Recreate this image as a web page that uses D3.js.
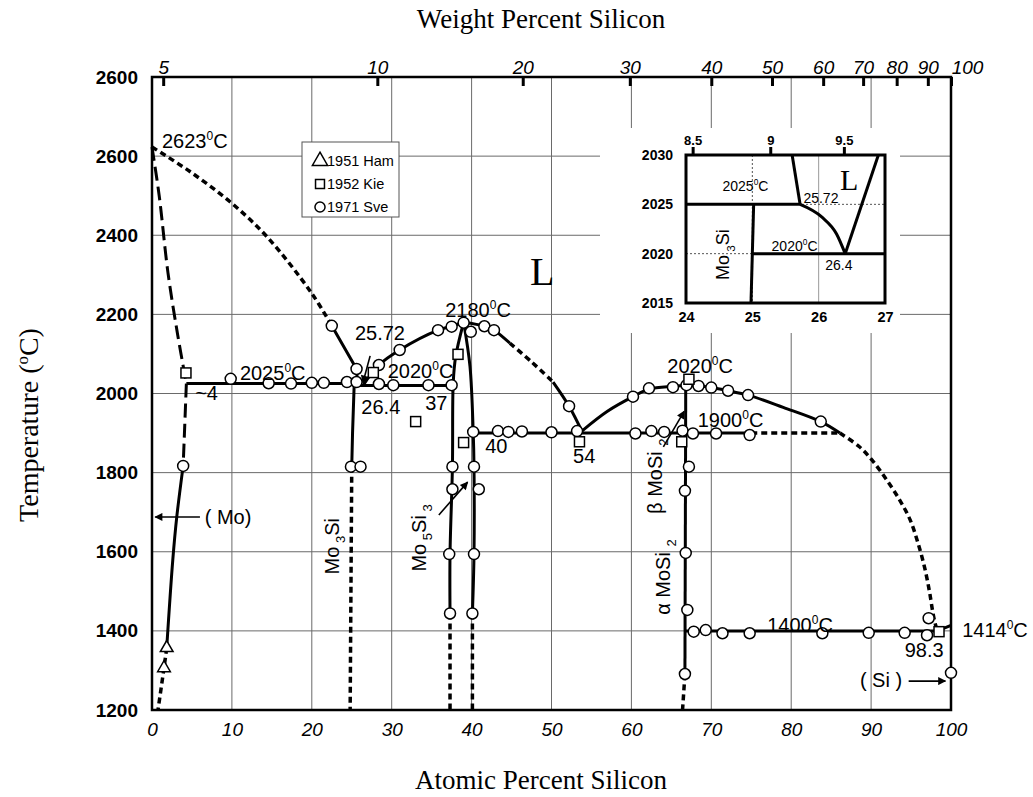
<!DOCTYPE html>
<html>
<head>
<meta charset="utf-8">
<script src="https://cdn.jsdelivr.net/npm/d3@7"></script>
<style>
  body { margin: 0; background: #fff; }
  svg { display: block; font-family: "Liberation Sans", Arial, sans-serif; }
</style>
</head>
<body>
<svg id="chart" width="1033" height="797"></svg>
<script>
// ---- axes ----
const atTicks = [0, 10, 20, 30, 40, 50, 60, 70, 80, 90, 100];
const tempTicks = [1200, 1400, 1600, 1800, 2000, 2200, 2400, 2600, 2800];
const tempTickLabels = ['1200', '1400', '1600', '1800', '2000', '2200', '2400', '2600', '2600'];
const wtTickLabels = ['5', '10', '20', '30', '40', '50', '60', '70', '80', '90', '100'];
const wtTickAt = [1.4, 28.2, 46.4, 59.8, 70.0, 77.6, 84.0, 89.0, 93.2, 97.1, 100];

// ---- phase boundaries [at% Si, temperature] ----
const moLiquidus = [[0, 2623], [4.75, 2561], [9.8, 2484], [14.4, 2396], [20, 2253], [22.5, 2171]];
const moLiquidusLow = [[22.5, 2171], [25.6, 2062], [25.72, 2025]];
const moSolidus = [[0, 2623], [0.9, 2500], [2.0, 2305], [3.2, 2150], [4.3, 2025]];
const moSolvusHigh = [[4.3, 2025], [4.1, 1920], [3.9, 1817]];
const moSolvus = [[3.9, 1817], [3.1, 1688], [2.6, 1579], [1.84, 1357]];
const moSolvusLow = [[1.84, 1357], [1.5, 1306], [0.75, 1200]];
const peritectic2025 = [[4.3, 2025], [25.72, 2025]];
const eutectic2020 = [[25.3, 2020], [37.7, 2020]];
const mo3Si = [[25.3, 2020], [25.1, 1900], [25.0, 1815]];
const mo3SiLow = [[25.0, 1815], [24.8, 1200]];
const liquidusMid = [[26.4, 2020], [28.4, 2072], [31.0, 2110], [35.8, 2160], [37.5, 2170], [39.0, 2180]];
const liquidusMid2 = [[39.0, 2180], [41.6, 2170], [42.8, 2160], [44.8, 2127]];
const liquidusMid2Dash = [[44.8, 2127], [47.5, 2080], [50.2, 2029]];
const liquidusMid3 = [[50.2, 2029], [52.2, 1968], [53.8, 1905]];
const mo5Si3Left = [[39.0, 2180], [38.0, 2093], [37.7, 2027], [37.6, 1815], [37.3, 1594], [37.3, 1444]];
const mo5Si3LeftLow = [[37.3, 1444], [37.3, 1200]];
const mo5Si3Right = [[39.0, 2180], [39.8, 2068], [40.2, 1903], [40.3, 1815], [40.3, 1594], [40.1, 1444]];
const mo5Si3RightLow = [[40.1, 1444], [40.1, 1200]];
const eutectic1900 = [[40.2, 1900], [75.0, 1900]];
const eutectic1900Dash = [[75.0, 1900], [86.1, 1900]];
const liquidusRight = [[53.8, 1905], [57.0, 1955], [60.2, 1992], [62.2, 2011], [65.2, 2018], [66.8, 2020],
  [68.4, 2019], [70.0, 2015], [72.1, 2007], [74.6, 1996], [79.0, 1965], [83.7, 1929], [86.1, 1900]];
const liquidusRightDash = [[86.1, 1900], [88.5, 1866], [90.1, 1832], [92.0, 1780], [93.6, 1730],
  [94.9, 1680], [95.9, 1620], [96.7, 1560], [97.3, 1500], [97.7, 1450], [98.0, 1420], [98.3, 1400]];
const siLiquidus = [[98.3, 1400], [100, 1414]];
const moSi2 = [[66.8, 2020], [66.7, 1290]];
const moSi2Low = [[66.7, 1290], [66.4, 1200]];
const eutectic1400 = [[66.7, 1400], [98.3, 1400]];

// ---- experimental points ----
const ham1951 = [[1.84, 1357], [1.5, 1306]];
const kie1952 = [[4.25, 2052], [27.7, 2053], [33.0, 1929], [38.3, 2099], [39.0, 1876], [53.5, 1878],
  [66.3, 1878], [67.2, 2036], [98.5, 1398]];
const sve1971 = [[3.9, 1817],
  [9.85, 2037], [14.6, 2026], [17.4, 2025], [20.0, 2027], [21.5, 2027], [24.4, 2029], [25.6, 2029],
  [25.6, 2062], [28.4, 2072], [28.4, 2024], [30.2, 2021], [34.6, 2021], [37.5, 2021],
  [22.5, 2171], [31.0, 2110], [35.8, 2160], [37.5, 2169], [39.0, 2179], [39.9, 2156], [41.6, 2170],
  [42.8, 2160], [52.2, 1968],
  [24.9, 1815], [26.1, 1815],
  [37.6, 1815], [37.6, 1758], [37.2, 1594], [37.3, 1444], [40.3, 1815], [40.9, 1758], [40.3, 1594], [40.1, 1444],
  [40.2, 1903], [43.3, 1905], [44.6, 1903], [46.3, 1904], [50.0, 1902], [53.2, 1905], [60.5, 1899],
  [62.5, 1905], [64.1, 1903], [66.4, 1906], [67.7, 1899], [70.6, 1899], [74.8, 1895],
  [60.2, 1992], [62.2, 2013], [65.2, 2016], [66.9, 2021], [68.4, 2019], [70.0, 2015], [72.1, 2007],
  [74.6, 1996], [83.7, 1929],
  [67.2, 1815], [66.7, 1754], [66.8, 1597], [67.0, 1453], [66.7, 1291],
  [67.8, 1398], [69.3, 1402], [71.4, 1394], [74.8, 1394], [83.9, 1394], [89.7, 1395], [94.2, 1395],
  [97.0, 1389], [97.2, 1432], [100, 1294]];

// ---- annotations [text, at%, temperature] ----
const labels = [
  ['2623°C', 1.25, 2620], ['2025°C', 11.0, 2034], ['25.72', 25.4, 2135], ['2020°C', 29.5, 2039],
  ['26.4', 26.2, 1948], ['37', 34.2, 1958], ['~4', 5.4, 1983], ['2180°C', 36.7, 2193],
  ['40', 41.7, 1850], ['54', 52.7, 1824], ['2020°C', 64.5, 2052], ['1900°C', 68.3, 1915],
  ['1400°C', 77.0, 1396], ['1414°C', 101.4, 1384], ['98.3', 94.2, 1334], ['( Si )', 88.6, 1258],
  ['( Mo)', 6.6, 1670]
];
const phaseLabels = [['Mo_3Si', 23.4, 1614], ['Mo_5Si_3', 34.3, 1635], ['β MoSi _2', 63.8, 1791], ['α MoSi _2', 64.8, 1536]];
const arrows = [
  [[27.3, 2095], [26.4, 2027]],
  [[35.9, 1693], [39.5, 1776]],
  [[64.0, 1865], [66.6, 1955]],
  [[6.0, 1688], [0.4, 1688]],
  [[94.7, 1273], [99.3, 1273]]
];

// ---- inset (at% 24-27, 2015-2030 C) ----
const insetAtTicks = [24, 25, 26, 27];
const insetTempTicks = [2015, 2020, 2025, 2030];
const insetWtLabels = ['8.5', '9', '9.5'];
const insetWtAt = [24.1, 25.27, 26.38];
const insetLiqA = [[25.6, 2030], [25.72, 2025]];
const insetLiqB = [[25.72, 2025], [26.05, 2023.7], [26.27, 2022], [26.4, 2020]];
const insetLiqC = [[26.4, 2020], [26.9, 2030]];
const insetPeritectic = [[24, 2025], [25.72, 2025]];
const insetEutectic = [[25, 2020], [27, 2020]];
const insetMo3Si = [[25.02, 2025], [24.98, 2015]];
const insetLabels = [['2025°C', 24.55, 2026.4], ['25.72', 25.77, 2025.1], ['2020°C', 25.29, 2020.3], ['26.4', 26.1, 2018.3]];

const svg = d3.select('#chart');
const x = d3.scaleLinear().domain([0, 100]).range([152, 951]);
const y = d3.scaleLinear().domain([1200, 2800]).range([710, 77]);

const defs = svg.append('defs');
defs.append('marker').attr('id', 'arrow').attr('viewBox', '0 0 10 10')
  .attr('refX', 9).attr('refY', 5).attr('markerWidth', 6).attr('markerHeight', 5)
  .attr('orient', 'auto').append('path').attr('d', 'M0,0L10,5L0,10z').attr('fill', '#000');

// grid
const grid = svg.append('g').attr('stroke', '#6a6a6a').attr('stroke-width', 1);
grid.selectAll('.vgrid').data(atTicks.slice(1, -1)).enter().append('line')
  .attr('class', 'vgrid')
  .attr('x1', d => x(d)).attr('x2', d => x(d))
  .attr('y1', y(2800)).attr('y2', y(1200));
grid.selectAll('.hgrid').data(tempTicks.slice(1, -1)).enter().append('line')
  .attr('class', 'hgrid')
  .attr('x1', x(0)).attr('x2', x(100))
  .attr('y1', d => y(d)).attr('y2', d => y(d));

// axes
svg.append('g')
  .attr('transform', `translate(${x(0)},0)`)
  .call(d3.axisLeft(y).tickValues(tempTicks).tickSize(0).tickPadding(14)
    .tickFormat((d, i) => tempTickLabels[i]))
  .call(g => g.select('.domain').remove())
  .selectAll('text').attr('font-size', 19).attr('font-weight', 'bold')
  .attr('font-family', '"Liberation Sans", Arial, sans-serif');

svg.append('g')
  .attr('transform', `translate(0,${y(1200)})`)
  .call(d3.axisBottom(x).tickValues(atTicks).tickSize(0).tickPadding(13))
  .call(g => g.select('.domain').remove())
  .selectAll('text').attr('font-size', 19).attr('font-style', 'italic')
  .attr('font-family', '"Liberation Sans", Arial, sans-serif');

const topAxis = svg.append('g')
  .attr('transform', `translate(0,${y(2800)})`)
  .call(d3.axisTop(x).tickValues(wtTickAt).tickSizeInner(-9).tickSizeOuter(0).tickPadding(3)
    .tickFormat((d, i) => wtTickLabels[i]))
  .call(g => g.select('.domain').remove());
topAxis.selectAll('line').attr('stroke-width', 3);
topAxis.selectAll('text').attr('font-size', 19).attr('font-style', 'italic')
  .attr('font-family', '"Liberation Sans", Arial, sans-serif')
  .attr('dx', (d, i) => i === wtTickAt.length - 1 ? 16 : 0);

// frame
svg.append('rect')
  .attr('x', x(0)).attr('y', y(2800))
  .attr('width', x(100) - x(0)).attr('height', y(1200) - y(2800))
  .attr('fill', 'none').attr('stroke', '#000').attr('stroke-width', 2.5);

// titles
svg.append('text').attr('x', 541).attr('y', 28).attr('text-anchor', 'middle')
  .attr('font-family', '"Liberation Serif", "Times New Roman", serif').attr('font-size', 27)
  .text('Weight Percent Silicon');
svg.append('text').attr('x', 541).attr('y', 789).attr('text-anchor', 'middle')
  .attr('font-family', '"Liberation Serif", "Times New Roman", serif').attr('font-size', 27)
  .text('Atomic Percent Silicon');
const yTitle = svg.append('text').attr('transform', 'translate(38,425) rotate(-90)')
  .attr('text-anchor', 'middle')
  .attr('font-family', '"Liberation Serif", "Times New Roman", serif').attr('font-size', 28);
yTitle.append('tspan').text('Temperature (');
yTitle.append('tspan').attr('dy', -10).attr('font-size', 17).text('o');
yTitle.append('tspan').attr('dy', 10).text('C)');

// phase lines
const smooth = d3.line().x(d => x(d[0])).y(d => y(d[1])).curve(d3.curveCatmullRom.alpha(0.5));
const straight = d3.line().x(d => x(d[0])).y(d => y(d[1]));
const solid = { w: 3, dash: null };
const shortDash = { w: 3.5, dash: '6,4' };
const longDash = { w: 3, dash: '14,6' };
const phaseLines = [
  [moLiquidus, shortDash, smooth], [moLiquidusLow, solid, straight],
  [moSolidus, longDash, smooth], [moSolvusHigh, longDash, smooth],
  [moSolvus, solid, smooth], [moSolvusLow, shortDash, smooth],
  [peritectic2025, solid, straight], [eutectic2020, solid, straight],
  [mo3Si, solid, straight], [mo3SiLow, shortDash, straight],
  [liquidusMid, solid, smooth], [liquidusMid2, solid, smooth],
  [liquidusMid2Dash, shortDash, smooth], [liquidusMid3, solid, smooth],
  [mo5Si3Left, solid, smooth], [mo5Si3LeftLow, shortDash, straight],
  [mo5Si3Right, solid, smooth], [mo5Si3RightLow, shortDash, straight],
  [eutectic1900, solid, straight], [eutectic1900Dash, shortDash, straight],
  [liquidusRight, solid, smooth], [liquidusRightDash, shortDash, smooth],
  [siLiquidus, solid, straight], [moSi2, solid, straight], [moSi2Low, shortDash, straight],
  [eutectic1400, solid, straight]
];
svg.append('g').selectAll('path').data(phaseLines).enter().append('path')
  .attr('d', d => d[2](d[0]))
  .attr('fill', 'none').attr('stroke', '#000')
  .attr('stroke-width', d => d[1].w)
  .attr('stroke-dasharray', d => d[1].dash);

// arrows
svg.append('g').selectAll('line').data(arrows).enter().append('line')
  .attr('x1', d => x(d[0][0])).attr('y1', d => y(d[0][1]))
  .attr('x2', d => x(d[1][0])).attr('y2', d => y(d[1][1]))
  .attr('stroke', '#000').attr('stroke-width', 1.6).attr('marker-end', 'url(#arrow)');

// experimental points
const pts = svg.append('g').attr('fill', '#fff').attr('stroke', '#000').attr('stroke-width', 1.5);
pts.selectAll('circle').data(sve1971).enter().append('circle')
  .attr('cx', d => x(d[0])).attr('cy', d => y(d[1])).attr('r', 5.5);
pts.selectAll('.sq').data(kie1952).enter().append('rect').attr('class', 'sq')
  .attr('x', d => x(d[0]) - 5).attr('y', d => y(d[1]) - 5).attr('width', 10).attr('height', 10);
pts.selectAll('.tri').data(ham1951).enter().append('path').attr('class', 'tri')
  .attr('d', d3.symbol().type(d3.symbolTriangle).size(70))
  .attr('transform', d => `translate(${x(d[0])},${y(d[1])})`);

// text helpers
function degText(sel, str, fs) {
  const parts = str.split('°');
  sel.append('tspan').text(parts[0]);
  if (parts.length > 1) {
    sel.append('tspan').attr('dy', -0.42 * fs).attr('font-size', fs * 0.6).text('0');
    sel.append('tspan').attr('dy', 0.42 * fs).text(parts[1]);
  }
}
function subText(sel, str, fs) {
  let shift = 0;
  str.split(/(_\d)/).filter(s => s.length).forEach(s => {
    if (s[0] === '_') {
      sel.append('tspan').attr('dy', 0.3 * fs - shift).attr('font-size', fs * 0.65).text(' ' + s[1]);
      shift = 0.3 * fs;
    } else {
      sel.append('tspan').attr('dy', -shift).text(s);
      shift = 0;
    }
  });
}

const ann = svg.append('g').attr('font-size', 20);
labels.forEach(d => {
  const t = ann.append('text').attr('x', x(d[1])).attr('y', y(d[2]));
  degText(t, d[0], 20);
});
phaseLabels.forEach(d => {
  const t = ann.append('text').attr('text-anchor', 'middle')
    .attr('transform', `translate(${x(d[1])},${y(d[2])}) rotate(-90)`);
  subText(t, d[0], 20);
});
svg.append('text').attr('x', x(47.3)).attr('y', y(2274))
  .attr('font-family', '"Liberation Serif", "Times New Roman", serif').attr('font-size', 40).text('L');

// legend
const legend = svg.append('g').attr('transform', 'translate(302,142)');
legend.append('rect').attr('width', 97).attr('height', 75).attr('fill', '#fff')
  .attr('stroke', '#555').attr('stroke-width', 1);
const legendItems = ['1951 Ham', '1952 Kie', '1971 Sve'];
const legendSymbols = [d3.symbolTriangle, d3.symbolSquare, d3.symbolCircle];
legendItems.forEach((name, i) => {
  legend.append('path').attr('d', d3.symbol().type(legendSymbols[i]).size(i === 0 ? 100 : 80))
    .attr('transform', `translate(18,${19 + i * 23})`)
    .attr('fill', '#fff').attr('stroke', '#000').attr('stroke-width', 1.5);
  legend.append('text').attr('x', 25).attr('y', 24 + i * 23).attr('font-size', 14.5).text(name);
});

// inset
const ix = d3.scaleLinear().domain([24, 27]).range([686, 885]);
const iy = d3.scaleLinear().domain([2015, 2030]).range([303, 155]);
const inset = svg.append('g');
inset.append('rect').attr('x', 600).attr('y', 128).attr('width', 300).attr('height', 205).attr('fill', '#fff');
inset.append('line').attr('x1', ix(25)).attr('x2', ix(25)).attr('y1', iy(2030)).attr('y2', iy(2015))
  .attr('stroke', '#555').attr('stroke-dasharray', '2,2');
inset.append('line').attr('x1', ix(26)).attr('x2', ix(26)).attr('y1', iy(2030)).attr('y2', iy(2015))
  .attr('stroke', '#999');
inset.selectAll('.ih').data([2020, 2025]).enter().append('line').attr('class', 'ih')
  .attr('x1', ix(24)).attr('x2', ix(27)).attr('y1', d => iy(d)).attr('y2', d => iy(d))
  .attr('stroke', '#555').attr('stroke-dasharray', '2,2');

const iline = d3.line().x(d => ix(d[0])).y(d => iy(d[1])).curve(d3.curveMonotoneX);
inset.selectAll('.il').data([insetLiqA, insetLiqB, insetLiqC, insetPeritectic, insetEutectic, insetMo3Si])
  .enter().append('path').attr('class', 'il')
  .attr('d', (d, i) => i === 1 ? iline(d) : d3.line().x(p => ix(p[0])).y(p => iy(p[1]))(d))
  .attr('fill', 'none').attr('stroke', '#000').attr('stroke-width', 3);

inset.append('rect').attr('x', ix(24)).attr('y', iy(2030))
  .attr('width', ix(27) - ix(24)).attr('height', iy(2015) - iy(2030))
  .attr('fill', 'none').attr('stroke', '#000').attr('stroke-width', 3);

inset.append('g').attr('transform', `translate(${ix(24)},0)`)
  .call(d3.axisLeft(iy).tickValues(insetTempTicks).tickSize(0).tickPadding(13).tickFormat(d3.format('d')))
  .call(g => g.select('.domain').remove())
  .selectAll('text').attr('font-size', 14).attr('font-weight', 'bold')
  .attr('font-family', '"Liberation Sans", Arial, sans-serif');
inset.append('g').attr('transform', `translate(0,${iy(2015)})`)
  .call(d3.axisBottom(ix).tickValues(insetAtTicks).tickSize(0).tickPadding(9).tickFormat(d3.format('d')))
  .call(g => g.select('.domain').remove())
  .selectAll('text').attr('font-size', 14.5).attr('font-weight', 'bold')
  .attr('font-family', '"Liberation Sans", Arial, sans-serif');
const insetTop = inset.append('g').attr('transform', `translate(0,${iy(2030)})`)
  .call(d3.axisTop(ix).tickValues(insetWtAt).tickSize(8).tickPadding(2)
    .tickFormat((d, i) => insetWtLabels[i]))
  .call(g => g.select('.domain').remove());
insetTop.selectAll('line').attr('stroke-width', 3);
insetTop.selectAll('text').attr('font-size', 13).attr('font-weight', 'bold')
  .attr('font-family', '"Liberation Sans", Arial, sans-serif');

const insetAnn = inset.append('g').attr('font-size', 14);
insetLabels.forEach(d => {
  const t = insetAnn.append('text').attr('x', ix(d[1])).attr('y', iy(d[2]));
  degText(t, d[0], 14);
});
const mo3SiInset = insetAnn.append('text').attr('text-anchor', 'middle').attr('font-size', 18)
  .attr('transform', `translate(${ix(24.56) + 6},${iy(2019.9)}) rotate(-90)`);
subText(mo3SiInset, 'Mo_3Si', 18);
inset.append('text').attr('x', ix(26.32)).attr('y', iy(2026.5))
  .attr('font-family', '"Liberation Serif", "Times New Roman", serif').attr('font-size', 30).text('L');
</script>
</body>
</html>
